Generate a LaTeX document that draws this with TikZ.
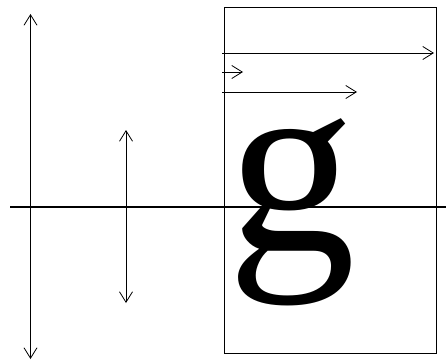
\documentclass[tikz,border=0pt]{standalone}
\usepackage{fontspec}
\setmainfont{Liberation Serif}
\usetikzlibrary{arrows.meta}
\tikzset{
  barb/.tip={Straight Barb[length=10.5pt,width=13pt]},
  measure/.style={line width=0.8pt, barb-barb},
  advance/.style={line width=0.8pt, -barb},
}
\begin{document}
\begin{tikzpicture}[x=1pt, y=-1pt]
    \useasboundingbox (0,0) rectangle (446,361);

    % glyph box and glyph
    \node[draw, line width=0.8pt, minimum width=212pt, minimum height=346pt, inner sep=0pt,
        anchor=north west] (box) at (224,7) {};
    \node[inner sep=0pt, anchor=base west, font=\fontsize{257}{257}\selectfont] (glyph) at (227,250) {g};

    % baseline
    \coordinate (base west) at (10,207);
    \coordinate (base east) at (446,207);
    \draw[line width=1.8pt] (base west) -- (base east);

    % vertical measures
    \coordinate (line top) at (30.5,14);
    \coordinate (line bottom) at (30.5,359);
    \draw[measure] (line top) -- (line bottom);
    \coordinate (ink top) at (126,130);
    \coordinate (ink bottom) at (126,303);
    \draw[measure] (ink top) -- (ink bottom);

    % horizontal measures
    \coordinate (adv start) at (222,53);
    \coordinate (adv end) at (434,53);
    \draw[advance] (adv start) -- (adv end);
    \coordinate (lsb start) at (222,72);
    \coordinate (lsb end) at (243,72);
    \draw[advance] (lsb start) -- (lsb end);
    \coordinate (ink start) at (222,92);
    \coordinate (ink end) at (357,92);
    \draw[advance] (ink start) -- (ink end);
\end{tikzpicture}
\end{document}
